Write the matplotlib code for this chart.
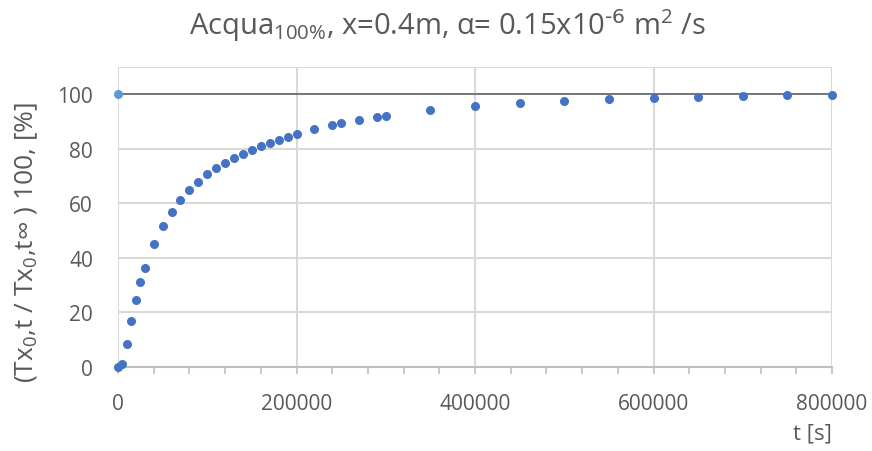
import numpy as np
import matplotlib.pyplot as plt
from matplotlib.ticker import MultipleLocator

t_s = [0, 5000, 10000, 15000, 20000, 25000, 30000, 40000, 50000, 60000,
       70000, 80000, 90000, 100000, 110000, 120000, 130000, 140000, 150000,
       160000, 170000, 180000, 190000, 200000, 220000, 240000, 250000,
       270000, 290000, 300000, 350000, 400000, 450000, 500000, 550000,
       600000, 650000, 700000, 750000, 800000]
ratio_pct = [0.0, 1.2, 8.4, 16.9, 24.6, 31.0, 36.4, 45.2, 51.8, 57.0,
             61.3, 64.8, 67.8, 70.6, 72.8, 74.8, 76.6, 78.2, 79.7,
             81.0, 82.2, 83.3, 84.4, 85.3, 87.2, 88.6, 89.3,
             90.6, 91.5, 92.2, 94.1, 95.6, 96.8, 97.7, 98.3,
             98.6, 99.1, 99.3, 99.6, 99.7]

# asymptote at 100 %
ref_t = [0, 800000]
ref_pct = [100, 100]

plt.rcParams['font.family'] = ['Open Sans', 'DejaVu Sans']
plt.rcParams['mathtext.default'] = 'regular'

grey = '#595959'

fig = plt.figure(figsize=(8.72, 4.52), dpi=100)
ax = fig.add_axes([118/872, 84/452, 714/872, 300/452])

ax.plot(ref_t, ref_pct, color='#5f6670', lw=1.2, zorder=2)
ax.scatter(ref_t[:1], ref_pct[:1], s=30, color='#5B9BD5', zorder=3, clip_on=False)
ax.scatter(t_s, ratio_pct, s=30, color='#4472C4', zorder=4, clip_on=False)

ax.set_xlim(0, 800000)
ax.set_ylim(0, 110)
ax.xaxis.set_major_locator(MultipleLocator(200000))
ax.xaxis.set_minor_locator(MultipleLocator(40000))
ax.set_yticks(range(0, 101, 20))

ax.grid(True, which='major', color='#d9d9d9', lw=1.5)
ax.axhline(110, color='#d9d9d9', lw=1.5)
for s in ax.spines.values():
    s.set_visible(False)
ax.spines['bottom'].set_visible(True)
ax.spines['bottom'].set_color('#bfbfbf')
ax.spines['bottom'].set_linewidth(1.5)

ax.tick_params(axis='x', which='both', direction='out', length=5,
               color='#bfbfbf', width=1.2, labelsize=15, labelcolor=grey, pad=14)
ax.tick_params(axis='y', length=0, labelsize=15, labelcolor=grey, pad=18)
ax.set_axisbelow(True)

ax.set_title('Acqua$_{100\\%}$, x=0.4m, \u03b1= 0.15x10$^{\\text{-6}}$ m$^{2}$ /s',
             fontsize=21, color=grey, pad=24, x=0.462)
ax.set_ylabel('(Tx$_{0}$,t / Tx$_{0}$,t\u221e ) 100, [%]', fontsize=19,
              color=grey)
ax.yaxis.set_label_coords(-0.109, 0.42)
ax.set_xlabel('t [s]', fontsize=16, color=grey, loc='right', labelpad=6)

fig.savefig('out.png', dpi=100)
